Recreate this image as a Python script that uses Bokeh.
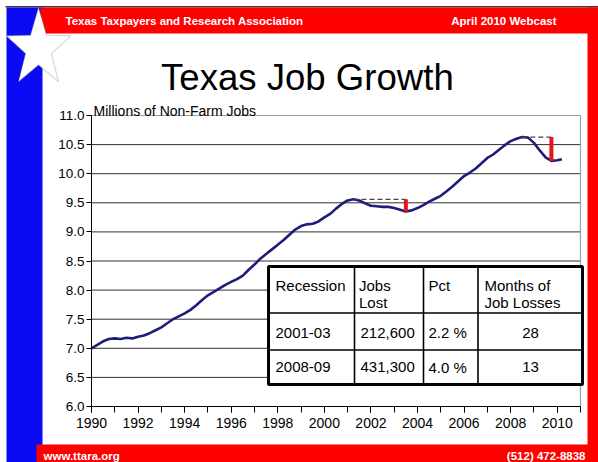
import math
from bokeh.plotting import figure
from bokeh.models import (BoxAnnotation, Label, PolyAnnotation, FixedTicker,
                          Range1d, NumeralTickFormatter)
from bokeh.embed import file_html
from bokeh.resources import INLINE

# ---------------- data ----------------
years = [1990.0, 1990.25, 1990.5, 1990.75, 1991.0, 1991.25, 1991.5, 1991.75,
         1992.0, 1992.25, 1992.5, 1992.75, 1993.0, 1993.25, 1993.5, 1993.75,
         1994.0, 1994.25, 1994.5, 1994.75, 1995.0, 1995.25, 1995.5, 1995.75,
         1996.0, 1996.25, 1996.5, 1996.75, 1997.0, 1997.25, 1997.5, 1997.75,
         1998.0, 1998.25, 1998.5, 1998.75, 1999.0, 1999.25, 1999.5, 1999.75,
         2000.0, 2000.25, 2000.5, 2000.75, 2001.0, 2001.25, 2001.5, 2001.75,
         2002.0, 2002.25, 2002.5, 2002.75, 2003.0, 2003.25, 2003.5, 2003.75,
         2004.0, 2004.25, 2004.5, 2004.75, 2005.0, 2005.25, 2005.5, 2005.75,
         2006.0, 2006.25, 2006.5, 2006.75, 2007.0, 2007.25, 2007.5, 2007.75,
         2008.0, 2008.25, 2008.5, 2008.75, 2009.0, 2009.25, 2009.5, 2009.75,
         2010.0, 2010.2]
jobs = [7.00, 7.06, 7.12, 7.16, 7.17, 7.16, 7.18, 7.17,
        7.20, 7.22, 7.26, 7.31, 7.36, 7.43, 7.50, 7.55,
        7.60, 7.66, 7.74, 7.83, 7.91, 7.97, 8.03, 8.09,
        8.14, 8.19, 8.25, 8.35, 8.44, 8.54, 8.62, 8.70,
        8.78, 8.86, 8.95, 9.04, 9.10, 9.13, 9.14, 9.18,
        9.25, 9.31, 9.40, 9.48, 9.54, 9.56, 9.54, 9.49,
        9.45, 9.44, 9.43, 9.43, 9.41, 9.38, 9.35, 9.37,
        9.41, 9.46, 9.52, 9.57, 9.62, 9.70, 9.78, 9.87,
        9.96, 10.02, 10.09, 10.18, 10.27, 10.33, 10.41, 10.49,
        10.56, 10.60, 10.63, 10.62, 10.53, 10.40, 10.28, 10.22,
        10.23, 10.25]

y_ticks = [6.0, 6.5, 7.0, 7.5, 8.0, 8.5, 9.0, 9.5, 10.0, 10.5, 11.0]
x_label_years = [1990, 1992, 1994, 1996, 1998, 2000, 2002, 2004, 2006, 2008, 2010]
x_minor_years = list(range(1990, 2012))
x_start, x_end = 1990, 2011
y_start, y_end = 6.0, 11.0

recession_windows = [(2000.5, 2004.0), (2008.0, 2010.2)]

table_headers = [["Recession"], ["Jobs", "Lost"], ["Pct"], ["Months of", "Job Losses"]]
recessions = ["2001-03", "2008-09"]
jobs_lost = ["212,600", "431,300"]
pct_lost = ["2.2 %", "4.0 %"]
months_lost = ["28", "13"]

title_text = "Texas Job Growth"
header_left = "Texas Taxpayers and Research Association"
header_right = "April 2010 Webcast"
footer_left = "www.ttara.org"
footer_right = "(512) 472-8838"
axis_caption = "Millions of Non-Farm Jobs"

# ---------------- layout ----------------
W, H = 598, 462
PL, PR, PT, PB = 91, 580, 115, 406     # chart area in page pixels
FONT = "Liberation Sans"
ppx = (PR - PL) / (x_end - x_start)   # pixels per year
ppy = (PB - PT) / (y_end - y_start)   # pixels per million

p = figure(width=W, height=H, output_backend="svg", toolbar_location=None,
           title=None, min_border=0,
           x_range=Range1d(x_start - PL / ppx, x_end + (W - PR) / ppx),
           y_range=Range1d(y_start - (H - PB) / ppy, y_end + PT / ppy))
p.border_fill_color = "white"
p.background_fill_color = "white"
p.outline_line_color = None


def sx(ox):  # page x -> screen units
    return ox


def sy(oy):  # page y (down) -> screen units (up)
    return H - oy


def box(x0, y0, x1, y1, color, line_color=None, line_width=0):
    b = BoxAnnotation(left=sx(x0), right=sx(x1), top=sy(y0), bottom=sy(y1),
                      left_units="screen", right_units="screen",
                      top_units="screen", bottom_units="screen",
                      fill_color=color if color else "white",
                      fill_alpha=1.0 if color else 0.0,
                      line_color=line_color, line_width=line_width,
                      line_alpha=1.0 if line_color else 0.0)
    p.add_layout(b)
    return b


def label(ox, oy, text, size, color="black", bold=False, align="left", baseline="alphabetic"):
    lb = Label(x=sx(ox), y=sy(oy), x_units="screen", y_units="screen", text=text,
               text_font=FONT, text_font_size=f"{size}px", text_color=color,
               text_font_style="bold" if bold else "normal",
               text_align=align, text_baseline=baseline)
    p.add_layout(lb)
    return lb


# axes (placed at the chart's corner)
p.xaxis.fixed_location = y_start
p.xaxis.bounds = (x_start, x_end)
p.xaxis.ticker = FixedTicker(ticks=x_label_years, minor_ticks=x_minor_years)
p.xaxis.major_tick_in = 0
p.xaxis.major_tick_out = 6
p.xaxis.minor_tick_in = 0
p.xaxis.minor_tick_out = 6
p.xaxis.major_label_standoff = 5
p.xaxis.major_label_text_font = FONT
p.xaxis.major_label_text_font_size = "14px"
p.xaxis.major_label_text_color = "black"
p.xaxis.axis_line_color = "black"
p.xaxis.major_tick_line_color = "black"
p.xaxis.minor_tick_line_color = "black"

p.yaxis.fixed_location = x_start
p.yaxis.bounds = (y_start, y_end)
p.yaxis.ticker = FixedTicker(ticks=y_ticks, minor_ticks=[])
p.yaxis.formatter = NumeralTickFormatter(format="0.0")
p.yaxis.major_tick_in = 0
p.yaxis.major_tick_out = 5
p.yaxis.minor_tick_in = 0
p.yaxis.minor_tick_out = 0
p.yaxis.major_label_standoff = 2
p.yaxis.major_label_text_font = FONT
p.yaxis.major_label_text_font_size = "13.5px"
p.yaxis.major_label_text_color = "black"
p.yaxis.axis_line_color = "black"
p.yaxis.major_tick_line_color = "black"

p.xgrid.visible = False
p.ygrid.visible = False

# horizontal grid lines limited to the chart area
p.segment(x0=[x_start] * len(y_ticks), y0=y_ticks, x1=[x_end] * len(y_ticks), y1=y_ticks,
          line_color="#303030", line_width=1, level="underlay")
# chart border (top/right in gray)
p.segment(x0=[x_start, x_end], y0=[y_end, y_start], x1=[x_end, x_end], y1=[y_end, y_end],
          line_color="#a0a0a0", line_width=1.2, level="underlay")

# data line
p.line(years, jobs, line_color="#1E1E78", line_width=2.6)

# peak-to-trough markers computed from the series
for a, b in recession_windows:
    idx = [i for i, yr in enumerate(years) if a <= yr <= b]
    pk = max(idx, key=lambda i: jobs[i])
    later = [i for i in idx if i > pk]
    tr = min(later, key=lambda i: jobs[i])
    p.segment(x0=[years[pk]], y0=[jobs[pk]], x1=[years[tr]], y1=[jobs[pk]],
              line_color="#444444", line_width=1.2, line_dash="5 3")
    p.segment(x0=[years[tr]], y0=[jobs[pk]], x1=[years[tr]], y1=[jobs[tr]],
              line_color="#E8141B", line_width=4)

# ---------------- slide decorations ----------------
box(5, 5.5, 600, 7, "#4a3030")         # thin dark top edge
box(6, 7, 42, 470, "#0A0AF5")          # blue left band
box(40, 7, 600, 33, "#FF0000")         # red top band
box(587, 7, 600, 470, "#FF0000")       # red right band
box(36, 444, 600, 470, "#FF0000")      # red footer band

# star
cx, cy, Rx, Ry = 38, 48, 34, 41
xs, ys = [], []
for k in range(10):
    ang = math.radians(-90 + 36 * k)
    f = 1.0 if k % 2 == 0 else 0.40
    xs.append(sx(cx + Rx * f * math.cos(ang)))
    ys.append(sy(cy + Ry * f * math.sin(ang)))
p.add_layout(PolyAnnotation(xs=xs, ys=ys, xs_units="screen", ys_units="screen",
                            fill_color="white", fill_alpha=1.0,
                            line_color="#777777", line_width=1.2))

label(65, 20, header_left, 11.5, "white", bold=True, baseline="middle")
label(556, 20, header_right, 11.5, "white", bold=True, align="right", baseline="middle")
label(43, 455, footer_left, 11.5, "white", bold=True, baseline="middle")
label(585, 455, footer_right, 11.5, "white", bold=True, align="right", baseline="middle")

label(160.5, 76.7, title_text, 36.6)
label(93, 110, axis_caption, 14)

# ---------------- table ----------------
tx0, tx1, ty0, ty1 = 268, 582, 266, 384
col_lines = [354, 423, 477.5]
row_lines = [312.5, 349.5]
box(tx0, ty0, tx1, ty1, "white", line_color="black", line_width=3)
for cxl in col_lines:
    box(cxl - 0.8, ty0, cxl + 0.8, ty1, "black")
for ryl in row_lines:
    box(tx0, ryl - 0.8, tx1, ryl + 0.8, "black")

col_x = [275, 358.5, 428, 484]
head_base = [285, 301.7]
for cx_, lines in zip(col_x, table_headers):
    for j, t in enumerate(lines):
        label(cx_, head_base[j], t, 15)

row_base = [332.3, 366.7]
for i in range(len(recessions)):
    label(col_x[0], row_base[i], recessions[i], 15)
    label(col_x[1] + 1.5, row_base[i], jobs_lost[i], 15)
    label(col_x[2], row_base[i], pct_lost[i], 15)
    label(530, row_base[i], months_lost[i], 15, align="center")

open("out.html", "w").write(file_html(p, INLINE))
